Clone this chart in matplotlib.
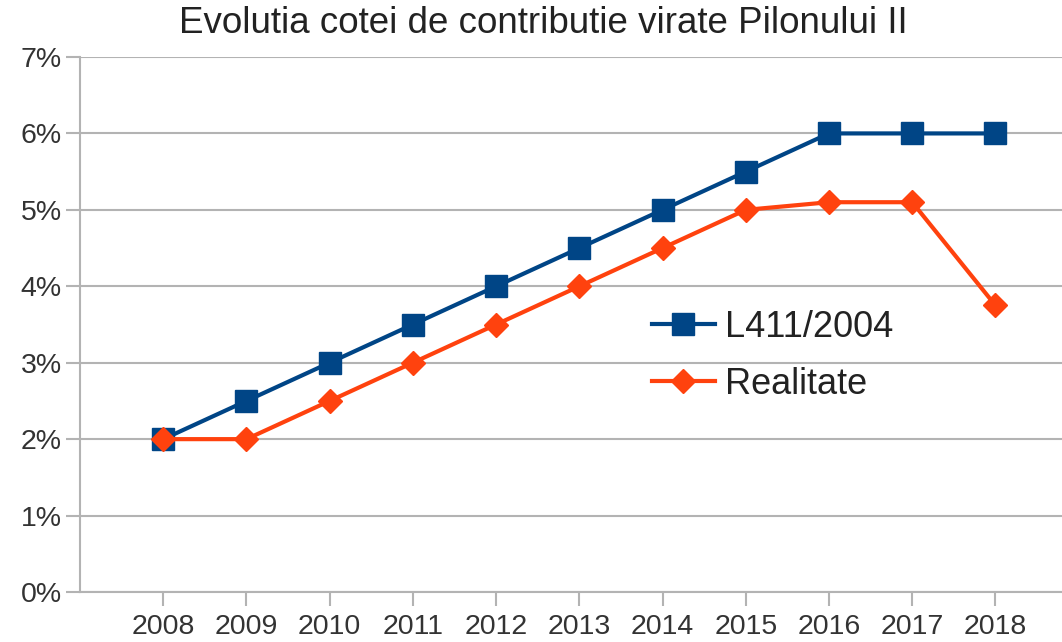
import numpy as np
import matplotlib.pyplot as plt

years = ['2008', '2009', '2010', '2011', '2012', '2013', '2014', '2015', '2016', '2017', '2018']
lege = [2.0, 2.5, 3.0, 3.5, 4.0, 4.5, 5.0, 5.5, 6.0, 6.0, 6.0]
realitate = [2.0, 2.0, 2.5, 3.0, 3.5, 4.0, 4.5, 5.0, 5.1, 5.1, 3.75]
yticks = [0, 1, 2, 3, 4, 5, 6, 7]

plt.rcParams['font.family'] = ['Liberation Sans', 'DejaVu Sans']

fig = plt.figure(figsize=(10.62, 6.42), dpi=100)
ax = fig.add_axes([80/1062, 50/642, 1 - 80/1062, 535/642])
x = np.arange(len(years))
ax.plot(x, lege, color='#004586', lw=3, marker='s', ms=16, label='L411/2004', zorder=3)
ax.plot(x, realitate, color='#ff420e', lw=3, marker='D', ms=12, label='Realitate', zorder=4)

ax.set_xlim(-1, 10.8)
ax.set_ylim(0, 7)
ax.set_xticks(x)
ax.set_xticklabels(years)
ax.set_yticks(yticks)
ax.set_yticklabels([f'{v}%' for v in yticks])
ax.tick_params(labelsize=20.5, colors='#b3b3b3', labelcolor='#333333', length=10, width=1.5)
ax.tick_params(axis='x', pad=6)
ax.tick_params(axis='y', pad=3)
ax.grid(axis='y', color='#b3b3b3', lw=1.5)
ax.set_axisbelow(True)
for s in ['top', 'right']:
    ax.spines[s].set_visible(False)
for s in ['left', 'bottom']:
    ax.spines[s].set_color('#b3b3b3')
    ax.spines[s].set_linewidth(1.5)

ax.legend(loc='upper left', bbox_to_anchor=(0.549, 0.588), frameon=False, fontsize=26,
          handlelength=1.75, labelspacing=0.6, handletextpad=0.28, labelcolor='#222222')
fig.text(0.512, 0.963, 'Evolutia cotei de contributie virate Pilonului II', ha='center', va='center',
         fontsize=26.5, color='#222222')

fig.savefig('out.png', dpi=100)
